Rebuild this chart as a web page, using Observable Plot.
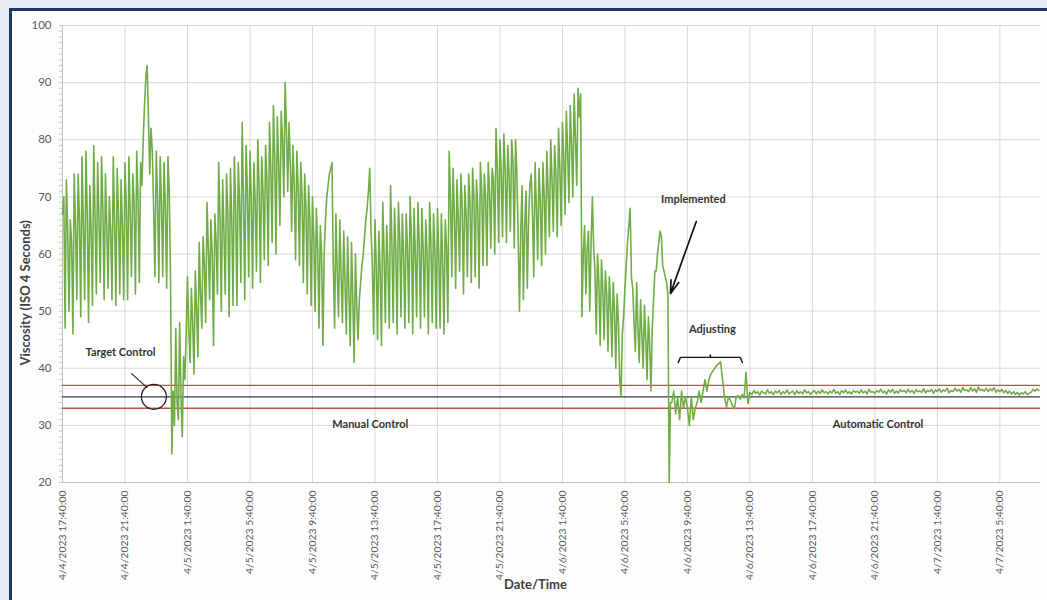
<!DOCTYPE html>
<html>
<head>
<meta charset="utf-8">
<script src="https://cdn.jsdelivr.net/npm/d3@7"></script>
<script src="https://cdn.jsdelivr.net/npm/@observablehq/plot@0.6"></script>
<style>
  html, body { margin: 0; padding: 0; width: 1047px; height: 600px; overflow: hidden; background: #e8ecf2; }
  #frame { position: absolute; left: 9px; top: 8px; width: 1200px; height: 800px; border: 3px solid #1f3763; background: #fdfdfd; }
  #chart { position: absolute; left: 0; top: 0; }
</style>
</head>
<body>
<div id="frame"></div>
<div id="chart"></div>
<script>
// ---- data ----
// manual-control period: one reading every 5 minutes from 4/4/2023 17:40 (one row = one hour)
const manualStart = "4/4/2023 17:40:00";
const manualStepMinutes = 5;
const manualViscosity = [
  67,70,47, 73,64,50, 66,62,46, 74,65,52,
  74,66,49, 77,65,52, 78,67,48, 72,64,51,
  79,67,53, 76,66,55, 77,68,52, 74,65,54,
  70,64,52, 77,66,51, 75,67,53, 73,65,52,
  76,68,52, 77,67,56, 74,69,53, 78,70,55,
  76,72,80, 86,91,93, 84,74,82, 78,68,56,
  78,70,55, 77,69,56, 76,68,54, 77,71,55,
  25,36,30, 47,34,31, 48,35,28, 42,38,46,
  56,47,41, 54,48,39, 57,50,42, 62,53,47,
  63,58,48, 69,61,52, 66,60,44, 67,62,53,
  76,66,50, 73,64,53, 74,67,49, 75,66,51,
  77,68,51, 76,69,55, 83,70,52, 79,71,56,
  78,70,54, 76,69,57, 80,72,55, 77,71,59,
  79,73,58, 83,75,62, 86,77,60, 84,76,65,
  85,80,70, 90,82,71, 83,76,64, 79,72,59,
  78,72,58, 76,70,55, 74,68,53, 72,66,51,
  70,63,50, 68,61,47, 65,60,44, 60,66,70,
  72,74,75, 76,58,47, 67,57,49, 66,56,48,
  64,55,46, 63,53,44, 62,52,41, 60,51,45,
  52,55,58, 60,63,66, 68,71,75, 64,58,46,
  66,58,45, 64,57,44, 69,60,48, 65,58,47,
  72,62,48, 68,61,46, 69,63,49, 67,60,47,
  67,61,48, 70,63,46, 68,60,49, 69,62,47,
  68,61,49, 66,60,46, 69,62,48, 67,61,47,
  68,60,47, 67,59,46, 66,61,48, 78,70,56,
  75,67,54, 73,66,57, 74,68,53, 72,67,56,
  74,69,55, 75,70,56, 73,68,54, 76,71,58,
  74,70,58, 76,71,61, 75,73,60, 82,75,62,
  80,74,63, 81,75,62, 79,74,64, 80,76,61,
  80,74,63, 50,64,72, 52,65,71, 54,66,72,
  74,67,56, 76,68,59, 75,69,58, 76,70,60,
  78,71,63, 80,73,64, 79,74,63, 82,75,65,
  83,77,67, 85,78,69, 86,79,70, 88,80,72,
  89,84,88, 49,60,65, 53,61,64, 50,62,70,
  61,57,46, 60,55,44, 59,54,45, 57,53,43,
  56,51,42, 55,50,40, 53,48,38, 35,46,49,
  54,58,62, 65,68,56, 54,48,43, 55,47,41,
  52,46,40, 51,45,38, 49,44,36, 47,52,57,
  57,60,62, 64,63,58, 57,56,55, 53,20,34
];

// adjusting + automatic-control period: one reading every 7.5 minutes from 4/6/2023 8:40 (one row = one hour)
const autoStart = "4/6/2023 8:40:00";
const autoStepMinutes = 7.5;
const autoViscosity = [
  34, 36, 32, 35, 31, 36, 33, 35,
  33, 30, 35, 31, 33, 34, 36, 34,
  36, 38, 36, 38, 39, 39.5, 40, 40.5,
  40.8, 41.1, 38, 35, 33.2, 35, 34.4, 33.5,
  32.9, 35, 35.2, 34.6, 35.4, 34.8, 39.3, 33.8,
  35.8, 35.4, 36.1, 35.6, 35.9, 35.3, 36.0, 35.7,
  35.5, 36.2, 35.6, 35.9, 35.4, 36.0, 35.7, 36.1,
  35.4, 35.9, 35.6, 36.2, 35.5, 35.8, 36.0, 35.4,
  36.1, 35.6, 35.9, 35.5, 36.2, 35.7, 35.9, 35.4,
  35.8, 36.1, 35.5, 36.0, 35.6, 36.2, 35.7, 35.9,
  35.5, 36.0, 35.7, 36.3, 35.6, 35.9, 35.4, 36.1,
  35.7, 36.2, 35.6, 35.9, 35.5, 36.1, 35.8, 36.0,
  35.6, 36.2, 35.7, 36.0, 35.5, 36.3, 35.8, 35.9,
  35.6, 36.1, 35.8, 36.3, 35.7, 36.0, 35.5, 36.2,
  35.8, 36.3, 35.6, 36.0, 35.7, 36.2, 35.9, 36.1,
  35.7, 36.3, 35.8, 36.1, 35.6, 36.2, 35.9, 36.0,
  35.8, 36.4, 35.7, 36.1, 35.9, 36.3, 35.6, 36.2,
  35.9, 36.4, 35.8, 36.2, 36.0, 36.5, 35.7, 36.1,
  35.9, 36.5, 36.0, 36.3, 35.8, 36.6, 36.1, 36.2,
  35.9, 36.6, 36.0, 36.4, 35.8, 36.7, 36.1, 36.3,
  36.0, 36.5, 35.9, 36.4, 36.1, 36.6, 35.8, 36.2,
  35.9, 36.3, 35.7, 36.1, 35.6, 36.0, 35.5, 35.9,
  35.4, 35.8, 35.3, 35.7, 35.5, 35.9, 35.4, 35.6,
  35.8, 36.3, 36.0, 36.4, 36.1
];

const tickLabels = [
  "4/4/2023 17:40:00", "4/4/2023 21:40:00", "4/5/2023 1:40:00", "4/5/2023 5:40:00",
  "4/5/2023 9:40:00", "4/5/2023 13:40:00", "4/5/2023 17:40:00", "4/5/2023 21:40:00",
  "4/6/2023 1:40:00", "4/6/2023 5:40:00", "4/6/2023 9:40:00", "4/6/2023 13:40:00",
  "4/6/2023 17:40:00", "4/6/2023 21:40:00", "4/7/2023 1:40:00", "4/7/2023 5:40:00"
];
const axisEndLabel = "4/7/2023 8:16:00";
const yTicks = [20, 30, 40, 50, 60, 70, 80, 90, 100];

const targetValue = 35;
const controlLimits = [37, 33];

// annotations (time as date/time text, value in seconds)
const notes = [
  {text: "Target Control",    time: "4/4/2023 21:23:00", v: 42.7},
  {text: "Manual Control",    time: "4/5/2023 13:22:00", v: 30.2},
  {text: "Implemented",       time: "4/6/2023 10:03:00", v: 69.5},
  {text: "Adjusting",         time: "4/6/2023 11:16:00", v: 46.8},
  {text: "Automatic Control", time: "4/6/2023 21:52:00", v: 30.2}
];
const targetCircle = {time: "4/4/2023 23:31:00", v: 35};
const targetPointer = {t1: "4/4/2023 22:04:00", v1: 39.1, t2: "4/4/2023 23:05:00", v2: 36.6};
const implementedArrow = {t1: "4/6/2023 10:14:00", v1: 65.7, t2: "4/6/2023 8:35:00", v2: 53.1};
const bracketTimes = ["4/6/2023 9:05:00", "4/6/2023 9:13:00", "4/6/2023 13:03:00", "4/6/2023 13:11:00"];
const bracketValues = [41.0, 41.9, 41.9, 41.0];
const bracketTip = {time: "4/6/2023 11:08:00", v1: 41.9, v2: 42.4};
const yTitle = {text: "Viscosity (ISO 4 Seconds)", time: "4/4/2023 17:40:00", v: 53.2};

// ---- helpers ----
function parseDT(s) {
  const [d, t] = s.split(" ");
  const [m, dd, y] = d.split("/").map(Number);
  const [hh, mm, ss] = t.split(":").map(Number);
  return new Date(y, m - 1, dd, hh, mm, ss);
}
function fmt(d) {
  const mm = String(d.getMinutes()).padStart(2, "0");
  const ss = String(d.getSeconds()).padStart(2, "0");
  return `${d.getMonth() + 1}/${d.getDate()}/${d.getFullYear()} ${d.getHours()}:${mm}:${ss}`;
}

const t0 = parseDT(manualStart);
const t1 = parseDT(autoStart);
const data = [
  ...manualViscosity.map((v, i) => ({t: new Date(+t0 + i * manualStepMinutes * 60000), v})),
  ...autoViscosity.map((v, i) => ({t: new Date(+t1 + i * autoStepMinutes * 60000), v}))
];
const majorTicks = tickLabels.map(parseDT);
const axisEnd = parseDT(axisEndLabel);
const minorTicks = d3.timeMinute.every(60).range(t0, axisEnd).filter(d => d.getMinutes() === t0.getMinutes());
const minorY = d3.range(20, 101, 1);
const noteData = notes.map(n => ({...n, t: parseDT(n.time)}));

const FONT = "Lato, 'Liberation Sans', sans-serif";

const plot = Plot.plot({
  width: 1047,
  height: 600,
  marginLeft: 62,
  marginRight: 7,
  marginTop: 25,
  marginBottom: 118,
  style: {background: "transparent", fontFamily: FONT},
  x: {type: "time", domain: [t0, axisEnd]},
  y: {domain: [20, 100]},
  marks: [
    Plot.frame({fill: "#ffffff", stroke: null}),
    Plot.gridY({ticks: yTicks.filter(d => d > 20), stroke: "#d9d9d9", strokeOpacity: 1}),
    Plot.gridX({ticks: majorTicks.slice(1), stroke: "#d9d9d9", strokeOpacity: 1}),
    Plot.ruleY([20], {stroke: "#bfbfbf"}),
    Plot.ruleX([t0], {stroke: "#bfbfbf"}),
    Plot.axisY({ticks: minorY, tickSize: 3, tickFormat: () => "", stroke: "#c8c8c8", label: null}),
    Plot.axisY({ticks: yTicks, tickSize: 0, tickPadding: 11, fontSize: 11.5, fill: "#595959", label: null}),
    Plot.axisX({ticks: minorTicks, tickSize: 4, tickFormat: () => "", stroke: "#bfbfbf", label: null}),
    Plot.axisX({ticks: majorTicks, tickSize: 0, tickPadding: 8, tickRotate: -90, tickFormat: fmt, fontSize: 10.4, fill: "#595959", label: null}),
    Plot.ruleY(controlLimits, {stroke: "#c0504d", strokeWidth: 1.3}),
    Plot.ruleY([targetValue], {stroke: "#3a3a3a", strokeWidth: 1.3}),
    Plot.line(data, {x: "t", y: "v", stroke: "#70ad47", strokeWidth: 1.6}),
    // annotations
    Plot.text(noteData, {x: "t", y: "v", text: "text", fontSize: 11, fontWeight: "bold", fill: "#333333"}),
    Plot.dot([targetCircle], {x: d => parseDT(d.time), y: "v", r: 12.5, stroke: "#222", strokeWidth: 1.3, fill: "none"}),
    Plot.link([targetPointer], {x1: d => parseDT(d.t1), y1: "v1", x2: d => parseDT(d.t2), y2: "v2", stroke: "#222", strokeWidth: 1.1}),
    Plot.arrow([implementedArrow], {x1: d => parseDT(d.t1), y1: "v1", x2: d => parseDT(d.t2), y2: "v2", stroke: "#111", strokeWidth: 1.7, headLength: 12, headAngle: 35}),
    Plot.line(bracketTimes.map((s, i) => ({t: parseDT(s), v: bracketValues[i]})), {x: "t", y: "v", stroke: "#111", strokeWidth: 1.4}),
    Plot.link([bracketTip], {x1: d => parseDT(d.time), x2: d => parseDT(d.time), y1: "v1", y2: "v2", stroke: "#111", strokeWidth: 1.6}),
    // axis titles
    Plot.text([yTitle], {x: d => parseDT(d.time), y: "v", text: "text", dx: -37, rotate: -90, fontSize: 13, fontWeight: "bold", fill: "#404040"}),
    Plot.text(["Date/Time"], {frameAnchor: "bottom", dx: -16, dy: 106, fontSize: 13, fontWeight: "bold", fill: "#404040"})
  ]
});
document.getElementById("chart").appendChild(plot);
</script>
</body>
</html>
